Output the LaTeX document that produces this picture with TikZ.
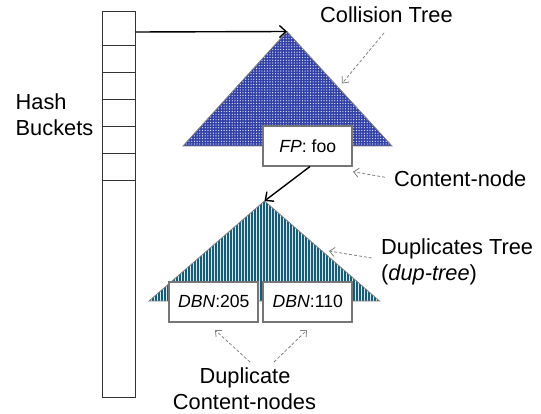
\documentclass[tikz,border=0pt]{standalone}
\usepackage{fontspec}
\setmainfont{Liberation Sans}
\usetikzlibrary{patterns.meta,arrows.meta}
\definecolor{ctblue}{RGB}{48,64,168}
\definecolor{dtbg}{RGB}{214,234,242}
\definecolor{dtline}{RGB}{22,92,118}
\definecolor{edgegray}{RGB}{128,128,128}
\definecolor{boxgray}{RGB}{118,118,118}
\begin{document}
\begin{tikzpicture}[x=1pt,y=-1pt,
  lbl/.style={font=\fontsize{21.8}{26.3}\selectfont, inner sep=0pt},
  cnode/.style={draw=boxgray, line width=2.2pt, fill=white, minimum width=89pt, minimum height=40pt, inner sep=0pt, font=\fontsize{17.6}{20}\selectfont},
  mainarrow/.style={line width=1.4pt, -{Straight Barb[length=6.5pt,width=12pt,line width=1.4pt]}},
  notearrow/.style={draw=edgegray, line width=0.8pt, dash pattern=on 3pt off 2pt, -{Straight Barb[length=5pt,width=9pt,line width=0.8pt]}},
  treeedge/.style={draw=edgegray, line width=0.8pt}
]
\useasboundingbox (0,0) rectangle (541,414);

% hash buckets
\node[draw=black!80, line width=0.9pt, minimum width=33pt, minimum height=385.5pt, inner sep=0pt] (bk) at (119,204.25) {};
\foreach \yy in {45,72,99,126,153,180}
  \draw[black!80, line width=0.9pt] (102.5,\yy) -- (135.5,\yy);
\node[lbl, align=left, anchor=west] (hb) at (15.5,114.7) {Hash\\Buckets};

% collision tree
\coordinate (ctapex) at (287,31.5);
\coordinate (ctleft) at (183,146);
\coordinate (ctright) at (392,146);
\path[fill=ctblue, postaction={pattern={Dots[distance=2.7pt,radius=0.65pt]}, pattern color=white!90!ctblue}]
  (ctapex) -- (ctleft) -- (ctright) -- cycle;
\draw[treeedge] (ctapex) -- (ctleft) -- (ctright) -- cycle;

% bucket pointer
\coordinate (b1) at (135.5,32);
\draw[mainarrow] (b1) -- (ctapex);

% content node
\node[cnode] (fp) at (307.8,146.2) {\textit{FP}: foo};

% duplicates tree
\coordinate (dtapex) at (264.5,201);
\coordinate (dtleft) at (149,301);
\coordinate (dtright) at (379.5,301);
\path[fill=dtbg, postaction={pattern={Lines[angle=90,distance=3pt,line width=1.05pt]}, pattern color=dtline}]
  (dtapex) -- (dtleft) -- (dtright) -- cycle;
\draw[treeedge] (dtapex) -- (dtleft) -- (dtright) -- cycle;

\coordinate (fpout) at (310,166.5);
\draw[mainarrow] (fpout) -- (dtapex);

\node[cnode] (d1) at (213.8,301.7) {\textit{DBN}:205};
\node[cnode] (d2) at (307.8,301.7) {\textit{DBN}:110};

% labels
\node[lbl, anchor=base west] (ctl) at (320,22.7) {Collision Tree};
\node[lbl, anchor=base west] (cnl) at (394,186.7) {Content-node};
\node[lbl, anchor=base west] (dtl) at (381,254.5) {Duplicates Tree};
\node[lbl, anchor=base west] (dtl2) at (381,280.3) {(\textit{dup-tree})};
\node[lbl, anchor=base] (dcl) at (245,383.3) {Duplicate};
\node[lbl, anchor=base] (dcl2) at (244.5,409) {Content-nodes};

% note arrows
\coordinate (n1s) at (384,33);   \coordinate (n1e) at (342,83.5);
\coordinate (n2s) at (385,177.3); \coordinate (n2e) at (353,171.7);
\coordinate (n3s) at (371.7,258); \coordinate (n3e) at (329,251);
\coordinate (n4s) at (250,362);  \coordinate (n4e) at (215,330);
\coordinate (n5s) at (274,362);  \coordinate (n5e) at (307,330);
\draw[notearrow] (n1s) -- (n1e);
\draw[notearrow] (n2s) -- (n2e);
\draw[notearrow] (n3s) -- (n3e);
\draw[notearrow] (n4s) -- (n4e);
\draw[notearrow] (n5s) -- (n5e);
\end{tikzpicture}
\end{document}
